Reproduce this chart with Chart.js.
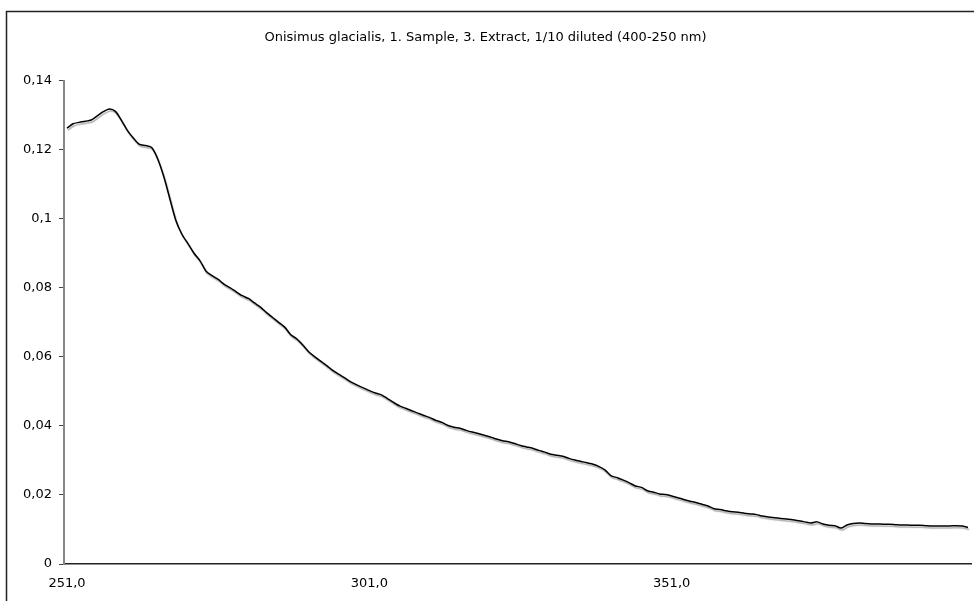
<!DOCTYPE html>
<html>
<head>
<meta charset="utf-8">
<script src="https://cdn.jsdelivr.net/npm/chart.js@4.4.1/dist/chart.umd.min.js"></script>
<style>
  html, body { margin: 0; padding: 0; background: #ffffff; }
  #wrap { position: absolute; left: 0; top: 0; width: 974px; height: 601px; }
</style>
</head>
<body>
<div id="wrap"><canvas id="c" width="974" height="601"></canvas></div>
<script>
// Wavelengths (nm), one per reading
const wavelengths = [
  251,252,253,254,255,256,257,258,259,260,261,262,263,264,265,266,267,268,269,270,
  271,272,273,274,275,276,277,278,279,280,281,282,283,284,285,286,287,288,289,290,
  291,292,293,294,295,296,297,298,299,300,301,302,303,304,305,306,307,308,309,310,
  311,312,313,314,315,316,317,318,319,320,321,322,323,324,325,326,327,328,329,330,
  331,332,333,334,335,336,337,338,339,340,341,342,343,344,345,346,347,348,349,350,
  351,352,353,354,355,356,357,358,359,360,361,362,363,364,365,366,367,368,369,370,
  371,372,373,374,375,376,377,378,379,380,381,382,383,384,385,386,387,388,389,390,
  391,392,393,394,395,396,397,398,399,400
];

// Absorbance readings
const absorbance = [
  0.1262,0.1275,0.1279,0.1282,0.1286,0.1298,0.1310,0.1318,0.1311,0.1285,
  0.1255,0.1233,0.1215,0.1212,0.1206,0.1173,0.1122,0.1058,0.0995,0.0955,
  0.0928,0.0900,0.0878,0.0848,0.0835,0.0824,0.0810,0.0800,0.0788,0.0777,
  0.0769,0.0756,0.0744,0.0728,0.0714,0.0700,0.0686,0.0664,0.0652,0.0634,
  0.0614,0.0600,0.0587,0.0574,0.0560,0.0549,0.0538,0.0527,0.0518,0.0510,
  0.0502,0.0495,0.0490,0.0479,0.0468,0.0458,0.0451,0.0444,0.0437,0.0430,
  0.0424,0.0416,0.0410,0.0401,0.0396,0.0393,0.0387,0.0382,0.0378,0.0373,
  0.0368,0.0362,0.0357,0.0354,0.0349,0.0343,0.0339,0.0335,0.0329,0.0324,
  0.0318,0.0315,0.0312,0.0306,0.0301,0.0297,0.0293,0.0289,0.0282,0.0272,
  0.0255,0.0250,0.0243,0.0235,0.0226,0.0222,0.0212,0.0208,0.0203,0.0201,
  0.0197,0.0192,0.0187,0.0182,0.0178,0.0173,0.0168,0.0160,0.0158,0.0154,
  0.0151,0.0150,0.0147,0.0145,0.0143,0.0139,0.0136,0.0134,0.0132,0.0130,
  0.0128,0.0125,0.0122,0.0119,0.0122,0.0116,0.0112,0.0111,0.0104,0.0113,
  0.0117,0.0119,0.0117,0.0116,0.0116,0.0115,0.0115,0.0114,0.0113,0.0113,
  0.0112,0.0112,0.0111,0.0110,0.0110,0.0110,0.0110,0.0111,0.0110,0.0106
];

// Y axis ticks
const yTicks = [0, 0.02, 0.04, 0.06, 0.08, 0.1, 0.12, 0.14];
// Wavelengths that carry an axis label
const labelledWavelengths = [251, 301, 351];

const categoryLabels = wavelengths.map(w => w.toFixed(1).replace('.', ','));
const fmtComma = v => String(Number(v.toFixed(2))).replace('.', ',');

// Outer chart frame
const framePlugin = {
  id: 'frame',
  beforeDraw(chart) {
    const ctx = chart.ctx;
    ctx.save();
    ctx.strokeStyle = '#222';
    ctx.lineWidth = 1.5;
    ctx.strokeRect(6.5, 11.5, 1200, 800);
    ctx.restore();
  }
};

// Soft grey shadow under the spectrum line
const shadowPlugin = {
  id: 'lineShadow',
  beforeDatasetDraw(chart) {
    const ctx = chart.ctx;
    ctx.save();
    ctx.shadowColor = 'rgba(150,150,150,0.8)';
    ctx.shadowOffsetX = 1;
    ctx.shadowOffsetY = 2;
    ctx.shadowBlur = 1;
  },
  afterDatasetDraw(chart) {
    chart.ctx.restore();
  }
};

new Chart(document.getElementById('c'), {
  type: 'line',
  data: {
    labels: categoryLabels,
    datasets: [{
      data: absorbance,
      borderColor: '#000000',
      borderWidth: 1.5,
      pointRadius: 0,
      tension: 0.25,
      fill: false
    }]
  },
  options: {
    responsive: false,
    animation: false,
    devicePixelRatio: 1,
    layout: { padding: { left: 0, right: 3, top: 30, bottom: 0 } },
    plugins: {
      legend: { display: false },
      tooltip: { enabled: false },
      title: {
        display: true,
        text: 'Onisimus glacialis, 1. Sample, 3. Extract, 1/10 diluted (400-250 nm)',
        color: '#000',
        font: { family: 'DejaVu Sans', size: 13, weight: 'normal', lineHeight: 1.2 },
        padding: { top: 0, bottom: 35 }
      }
    },
    scales: {
      x: {
        type: 'category',
        offset: true,
        afterFit(scale) { scale.height = 37; },
        grid: { display: false, drawTicks: false },
        border: { display: true, color: '#222', width: 1.5 },
        ticks: {
          autoSkip: false,
          maxRotation: 0,
          padding: 12,
          color: '#000',
          font: { family: 'DejaVu Sans', size: 13 },
          callback: function (val, i) {
            return labelledWavelengths.includes(wavelengths[i]) ? categoryLabels[i] : null;
          }
        }
      },
      y: {
        min: 0,
        max: 0.14,
        afterFit(scale) { scale.width = 64; },
        afterBuildTicks(scale) { scale.ticks = yTicks.map(v => ({ value: v })); },
        grid: { display: true, drawOnChartArea: false, drawTicks: true, tickLength: 5, color: '#444' },
        border: { display: true, color: '#888', width: 2 },
        ticks: {
          padding: 7,
          color: '#000',
          font: { family: 'DejaVu Sans', size: 13 },
          callback: v => fmtComma(v)
        }
      }
    }
  },
  plugins: [framePlugin, shadowPlugin]
});
</script>
</body>
</html>
